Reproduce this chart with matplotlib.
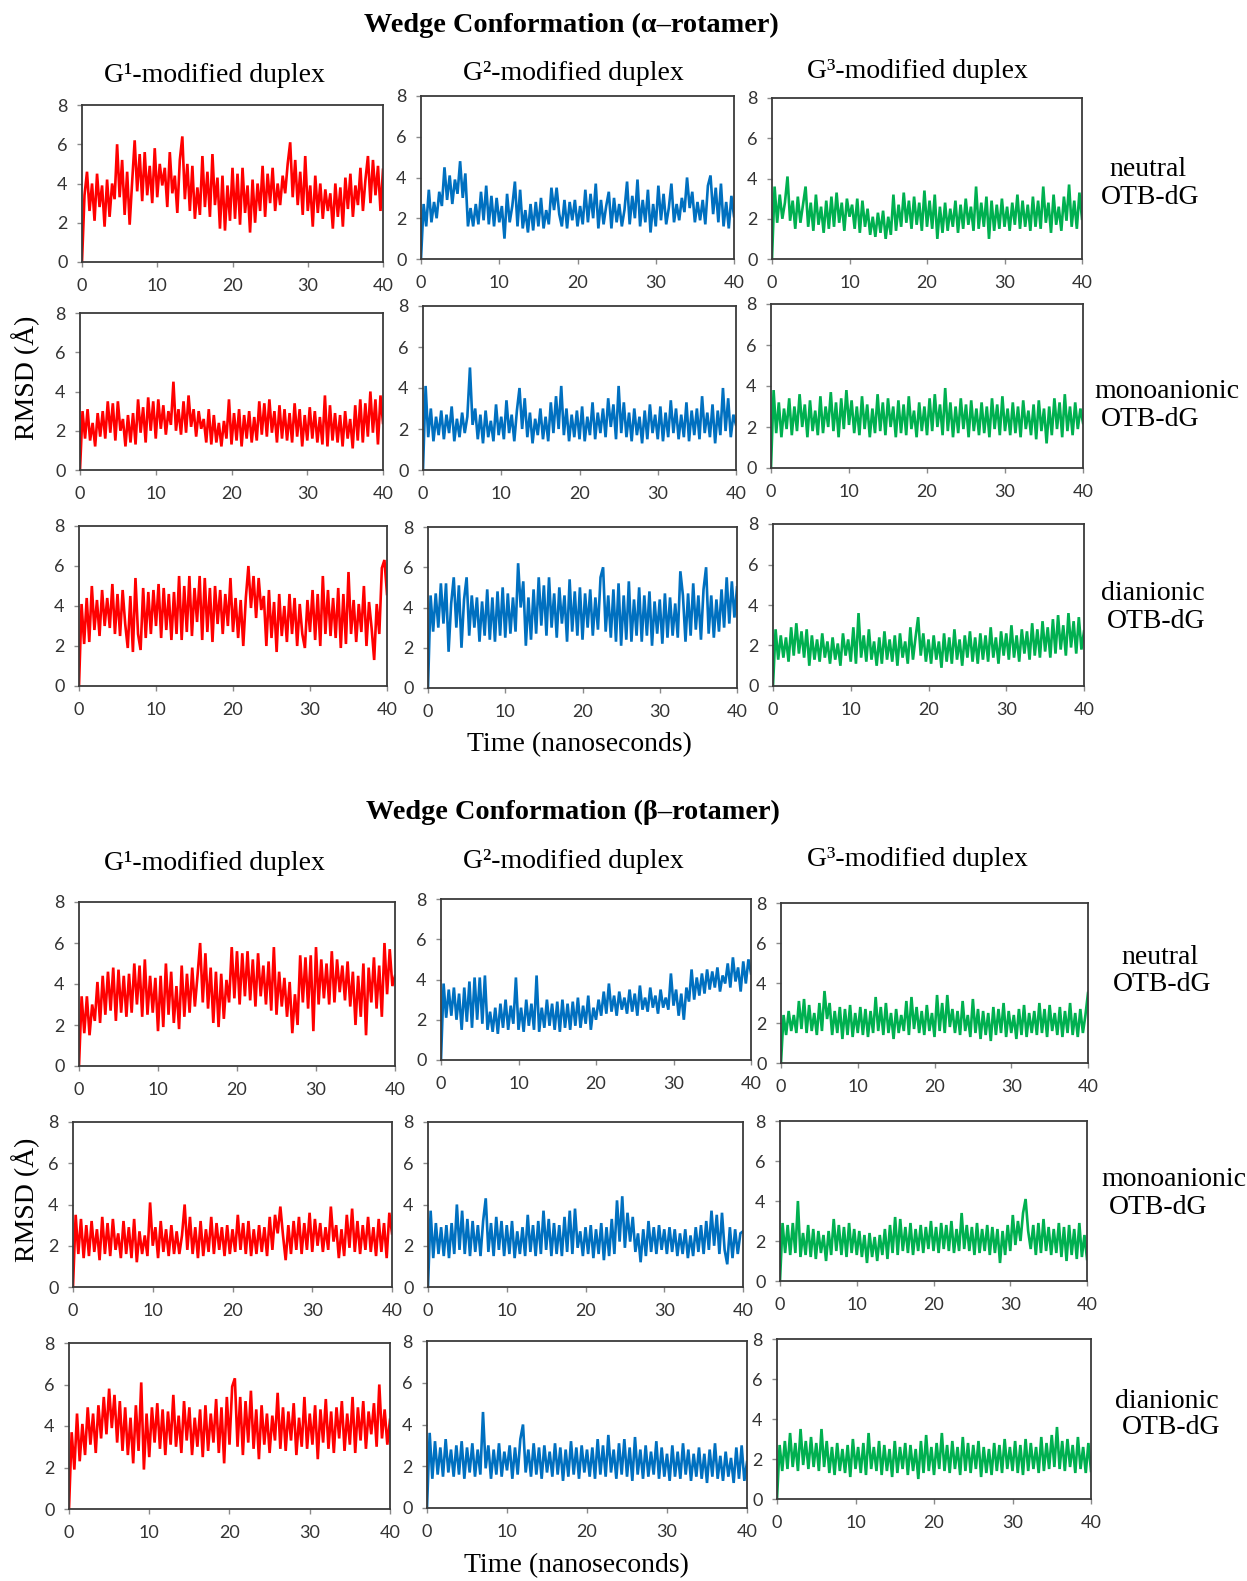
import numpy as np
import matplotlib
matplotlib.use("Agg")
import matplotlib.pyplot as plt

W, H = 1247, 1581

# RMSD traces (Angstrom), 0 to 40 ns
# alpha rotamer
a_g1_neu = [0, 3.4, 4.6, 2.6, 4.0, 2.1, 4.5, 2.8, 3.9, 1.8, 4.2, 2.3, 4.0, 3.2, 6.0, 3.3, 5.2, 2.4, 4.6, 1.9, 4.1,
            6.2, 3.6, 5.5, 3.1, 5.6, 3.4, 4.9, 3.0, 5.8, 3.3, 5.0, 3.9, 4.8, 2.8, 5.6, 3.5, 4.4, 2.5, 5.2, 6.4,
            3.2, 5.0, 2.6, 4.9, 2.2, 3.8, 2.4, 5.4, 2.8, 4.6, 2.3, 5.5, 2.9, 4.3, 1.7, 4.4, 1.6, 3.9, 2.1, 4.8,
            2.2, 4.5, 1.9, 4.8, 2.5, 3.9, 1.5, 4.2, 2.0, 4.0, 2.6, 4.9, 2.3, 4.5, 3.0, 4.8, 2.6, 4.0, 2.9, 4.4,
            3.5, 5.0, 6.1, 3.3, 5.2, 2.9, 4.6, 2.4, 5.4, 2.6, 3.9, 1.8, 4.4, 2.5, 4.0, 2.2, 3.7, 2.6, 3.5, 1.7,
            4.0, 2.3, 3.8, 1.8, 4.3, 2.7, 4.5, 2.3, 3.9, 2.9, 4.8, 2.6, 4.2, 5.4, 3.0, 5.2, 3.4, 4.9, 2.6, 4.7]
a_g2_neu = [0, 2.7, 1.6, 3.4, 1.8, 2.8, 2.0, 3.3, 2.6, 4.5, 2.9, 4.1, 2.7, 3.9, 3.2, 4.8, 3.0, 4.2, 1.6, 2.5, 1.6,
            2.7, 1.7, 3.3, 1.9, 3.6, 1.7, 3.1, 1.6, 3.0, 1.8, 2.6, 1.0, 3.2, 1.8, 2.6, 3.8, 1.6, 3.4, 1.5, 2.4,
            1.3, 2.7, 1.4, 2.8, 1.6, 3.0, 1.5, 2.4, 1.7, 3.5, 2.4, 3.5, 2.2, 1.6, 2.9, 1.5, 2.8, 1.9, 2.9, 1.6,
            2.6, 1.7, 3.4, 1.8, 3.2, 2.0, 3.7, 1.5, 2.9, 1.7, 2.6, 3.3, 1.5, 3.0, 1.8, 2.7, 1.6, 2.4, 3.8, 1.7,
            3.1, 2.0, 3.9, 1.6, 2.9, 1.8, 3.4, 1.3, 2.7, 1.6, 3.6, 1.9, 3.2, 1.7, 2.5, 3.7, 1.8, 2.7, 1.9, 3.0,
            2.3, 4.0, 2.5, 3.3, 1.8, 2.8, 1.9, 2.9, 1.7, 3.6, 4.1, 2.2, 3.5, 1.8, 3.7, 1.6, 2.8, 1.5, 3.1, 2.1]
a_g3_neu = [0, 3.6, 1.8, 3.2, 2.0, 2.8, 4.1, 1.9, 2.9, 1.5, 3.1, 1.8, 2.7, 3.6, 1.6, 2.8, 1.4, 3.2, 1.7, 2.6, 1.3,
            2.9, 1.5, 3.1, 1.6, 3.3, 1.8, 2.8, 1.4, 3.0, 2.1, 2.7, 1.5, 3.0, 1.3, 2.9, 1.6, 2.5, 1.2, 2.1, 1.1,
            2.3, 1.3, 2.4, 1.0, 2.1, 1.2, 3.2, 1.4, 2.7, 1.6, 3.3, 1.8, 2.9, 1.5, 3.1, 1.7, 2.8, 1.4, 3.4, 1.6,
            2.9, 1.5, 3.2, 1.0, 2.6, 1.3, 2.8, 1.4, 2.5, 1.6, 2.9, 1.3, 2.7, 1.5, 3.0, 1.7, 2.6, 1.4, 3.6, 1.5,
            2.8, 1.6, 3.1, 1.0, 2.9, 1.4, 2.7, 1.5, 3.0, 1.6, 2.6, 1.4, 2.8, 1.7, 3.2, 1.5, 2.9, 1.6, 2.7, 1.4,
            3.1, 1.6, 2.9, 1.5, 3.6, 1.8, 2.8, 1.3, 3.2, 1.7, 2.6, 1.4, 3.1, 1.9, 3.7, 1.6, 2.9, 1.5, 3.3, 2.0]
a_g1_mono = [0, 3.0, 1.6, 3.1, 1.5, 2.4, 1.2, 2.9, 1.7, 3.0, 1.6, 3.5, 1.9, 3.4, 1.5, 3.5, 2.0, 2.6, 1.2, 2.8, 1.4,
             2.9, 1.3, 3.6, 1.9, 3.2, 1.4, 3.7, 2.0, 3.5, 1.6, 3.6, 2.1, 3.3, 1.8, 3.0, 2.3, 4.5, 2.0, 3.1, 1.8,
             3.5, 1.9, 3.8, 2.2, 3.1, 1.7, 3.0, 2.1, 2.6, 1.4, 3.1, 1.3, 2.8, 1.4, 2.4, 1.2, 2.5, 1.6, 3.6, 1.3,
             2.9, 1.5, 3.1, 1.2, 2.8, 1.6, 3.0, 1.4, 2.7, 1.5, 3.5, 1.8, 3.4, 1.7, 3.6, 1.9, 3.0, 1.4, 3.3, 1.6,
             3.1, 1.5, 2.9, 1.4, 3.4, 1.7, 3.1, 1.2, 2.8, 1.5, 3.2, 1.6, 3.0, 1.4, 2.7, 1.3, 3.8, 1.2, 3.3, 1.5,
             2.9, 1.4, 2.8, 1.2, 3.0, 1.6, 2.6, 1.1, 3.3, 1.5, 3.6, 1.4, 3.4, 1.7, 4.0, 1.9, 3.6, 1.3, 3.8, 2.4]
a_g2_mono = [0, 4.1, 1.6, 3.0, 1.4, 2.6, 1.7, 2.9, 1.5, 2.7, 1.8, 3.1, 1.4, 2.5, 1.6, 2.8, 1.8, 2.6, 5.0, 2.2, 3.0,
             1.5, 2.7, 1.3, 2.9, 1.6, 2.4, 1.4, 3.2, 1.7, 2.6, 1.5, 3.4, 1.8, 2.7, 1.4, 2.9, 4.0, 2.0, 3.5, 1.6,
             2.8, 1.3, 2.5, 1.7, 3.0, 1.5, 2.6, 1.4, 3.3, 1.8, 3.6, 2.0, 4.1, 1.7, 3.0, 1.4, 2.7, 1.6, 2.9, 1.5,
             3.1, 1.4, 2.6, 1.7, 3.3, 1.5, 2.8, 1.8, 3.0, 1.6, 3.5, 2.1, 3.2, 1.5, 4.1, 1.8, 3.3, 1.6, 2.8, 1.4,
             3.0, 1.7, 2.6, 1.3, 2.9, 1.5, 3.2, 1.8, 2.7, 1.5, 3.1, 1.4, 2.8, 1.6, 3.4, 1.8, 3.0, 1.5, 2.7, 1.6,
             3.3, 1.4, 2.9, 1.7, 3.0, 1.5, 3.6, 1.8, 2.8, 1.6, 3.2, 1.3, 2.9, 1.7, 4.0, 1.9, 3.5, 1.6, 2.7, 2.2]
a_g3_mono = [0, 3.8, 1.7, 3.2, 1.5, 2.9, 1.9, 3.4, 1.6, 3.0, 1.8, 3.6, 2.0, 3.1, 1.5, 3.3, 1.8, 2.8, 1.6, 3.5, 1.7,
             3.0, 2.0, 3.7, 1.8, 3.2, 1.5, 3.4, 1.9, 3.8, 2.1, 3.3, 1.7, 3.0, 1.6, 3.5, 1.9, 3.1, 1.5, 2.9, 1.7,
             3.6, 1.8, 3.2, 1.6, 3.4, 2.0, 3.0, 1.5, 3.3, 1.7, 3.1, 1.6, 3.5, 1.9, 2.8, 1.5, 3.2, 1.8, 3.0, 1.6,
             3.4, 1.8, 3.6, 2.0, 3.1, 1.6, 3.9, 1.8, 3.2, 1.5, 3.0, 1.7, 3.4, 1.9, 3.1, 1.5, 3.3, 1.8, 2.9, 1.6,
             3.2, 1.7, 3.0, 1.5, 3.4, 1.9, 3.1, 1.6, 3.5, 1.8, 2.9, 1.6, 3.2, 1.7, 3.0, 1.5, 3.3, 1.9, 2.8, 1.6,
             3.1, 1.4, 3.3, 1.8, 2.9, 1.2, 3.0, 1.6, 3.4, 1.9, 3.2, 1.5, 3.6, 1.8, 3.0, 1.6, 3.2, 1.9, 2.9, 2.2]
a_g1_di = [0, 4.1, 2.1, 4.4, 2.2, 5.0, 2.8, 4.3, 2.5, 4.8, 3.0, 4.4, 2.9, 5.1, 2.6, 4.6, 2.5, 4.8, 3.1, 1.9, 4.5,
           1.7, 5.4, 2.6, 1.8, 4.9, 2.4, 4.7, 2.6, 4.8, 3.0, 5.1, 2.4, 4.9, 2.8, 4.6, 2.3, 4.7, 2.6, 5.5, 2.3,
           5.0, 2.7, 5.5, 2.5, 4.9, 3.2, 5.5, 2.3, 5.4, 2.7, 4.9, 2.2, 5.0, 3.1, 4.8, 2.6, 4.6, 3.0, 5.4, 2.7,
           4.4, 2.4, 4.3, 2.0, 4.4, 6.0, 3.9, 5.5, 3.4, 5.4, 3.8, 4.5, 2.0, 4.8, 2.4, 4.2, 1.7, 4.6, 2.5, 4.0,
           2.2, 4.6, 2.6, 4.4, 2.0, 4.1, 2.6, 1.9, 4.3, 2.7, 4.8, 2.3, 4.6, 2.0, 5.5, 2.6, 4.8, 2.5, 4.4, 2.4,
           4.9, 1.9, 4.6, 2.1, 5.7, 2.6, 4.3, 2.2, 4.1, 2.7, 5.0, 2.0, 4.2, 2.9, 1.3, 4.1, 2.6, 5.9, 6.3, 4.6]
a_g2_di = [0, 4.6, 2.8, 4.7, 3.0, 5.2, 3.2, 5.2, 1.8, 4.2, 5.5, 3.0, 5.1, 2.0, 4.4, 5.5, 2.6, 4.6, 3.0, 4.5, 2.3,
           4.3, 2.6, 4.9, 2.4, 4.5, 2.3, 4.8, 2.6, 5.0, 2.5, 4.7, 2.7, 4.5, 2.8, 6.2, 4.0, 5.3, 2.1, 4.5, 2.4,
           4.9, 2.7, 5.5, 3.1, 5.1, 2.6, 5.5, 3.0, 4.7, 2.5, 5.0, 3.2, 4.6, 2.3, 5.4, 2.8, 4.8, 2.6, 5.0, 2.4,
           4.7, 3.0, 4.9, 2.6, 4.5, 2.9, 5.5, 6.0, 2.8, 4.6, 2.5, 4.9, 2.3, 5.2, 2.1, 4.6, 2.4, 5.3, 2.3, 4.4,
           2.6, 5.0, 2.3, 4.6, 2.6, 4.8, 2.1, 4.3, 2.7, 4.4, 2.2, 4.7, 2.5, 4.5, 2.6, 4.2, 2.5, 5.8, 4.6, 2.3,
           4.7, 2.6, 5.2, 2.9, 4.6, 2.4, 4.9, 6.0, 2.7, 4.6, 2.5, 4.4, 2.8, 4.9, 3.0, 5.5, 3.2, 5.3, 3.5, 5.0]
a_g3_di = [0, 2.8, 1.3, 2.5, 1.4, 2.4, 1.2, 2.9, 1.5, 3.1, 1.6, 2.7, 1.4, 2.8, 1.0, 2.5, 1.3, 2.3, 1.2, 2.6, 1.4,
           2.2, 1.1, 2.4, 1.3, 2.1, 1.0, 2.6, 1.5, 2.3, 1.2, 2.9, 1.1, 3.6, 1.4, 2.5, 1.2, 2.8, 1.3, 2.2, 1.0,
           2.4, 1.1, 2.7, 1.3, 2.3, 1.2, 2.5, 1.0, 2.6, 1.4, 2.2, 1.1, 2.9, 1.3, 2.4, 3.4, 1.5, 2.6, 1.2, 2.3,
           1.1, 2.5, 1.3, 2.2, 0.9, 2.6, 1.2, 2.4, 1.1, 2.8, 1.3, 2.3, 1.0, 2.5, 1.4, 2.7, 1.2, 2.4, 1.1, 2.6,
           1.3, 2.5, 1.2, 2.9, 1.4, 2.4, 1.1, 2.7, 1.5, 2.6, 1.3, 3.0, 1.4, 2.5, 1.2, 2.8, 1.6, 2.7, 1.3, 3.1,
           1.5, 2.8, 1.4, 3.2, 1.7, 2.9, 1.4, 3.3, 1.6, 3.5, 1.8, 3.0, 1.5, 3.6, 1.9, 3.2, 1.6, 3.4, 1.8, 2.7]
# beta rotamer
b_g1_neu = [0, 3.4, 1.6, 3.4, 1.5, 3.0, 2.2, 4.1, 2.1, 4.4, 2.5, 4.6, 2.7, 4.8, 2.2, 4.7, 2.6, 4.4, 2.4, 4.5, 2.6,
            5.0, 3.0, 4.9, 2.4, 5.2, 2.5, 4.4, 2.6, 4.3, 1.7, 4.4, 1.9, 5.0, 2.5, 4.6, 2.1, 3.9, 1.8, 4.9, 2.4,
            4.5, 2.6, 4.8, 2.9, 4.4, 6.0, 3.1, 5.5, 2.8, 4.8, 2.1, 4.6, 1.9, 4.5, 2.3, 4.2, 3.1, 5.8, 3.3, 5.6,
            3.0, 5.5, 3.4, 5.6, 3.2, 5.2, 2.9, 5.5, 3.4, 4.9, 3.0, 5.1, 2.7, 5.8, 2.5, 4.6, 2.9, 4.3, 2.4, 4.1,
            1.6, 3.5, 2.0, 5.4, 3.1, 5.3, 2.8, 5.4, 1.7, 5.8, 3.0, 5.2, 3.3, 5.0, 3.0, 5.6, 3.1, 5.2, 3.6, 4.9,
            3.2, 5.1, 2.9, 4.6, 2.0, 4.4, 2.4, 5.0, 1.5, 4.8, 3.1, 5.3, 2.8, 4.9, 2.4, 6.0, 3.5, 5.7, 3.9, 4.4]
b_g2_neu = [0, 3.8, 2.1, 3.5, 2.2, 3.6, 2.0, 3.3, 1.5, 3.6, 1.9, 3.9, 1.6, 4.1, 2.0, 4.1, 1.8, 4.2, 1.5, 2.4, 1.4,
            2.6, 1.3, 2.8, 1.6, 3.0, 1.5, 2.7, 1.8, 4.1, 1.5, 2.6, 1.4, 3.0, 1.7, 2.8, 1.5, 4.2, 1.4, 2.6, 1.6,
            3.0, 1.7, 2.8, 1.5, 2.9, 1.4, 3.0, 1.6, 2.8, 1.5, 2.9, 1.7, 3.1, 1.6, 2.7, 1.8, 3.2, 1.5, 2.6, 2.0,
            3.0, 2.2, 3.4, 2.3, 3.8, 2.4, 3.2, 2.2, 3.4, 2.5, 3.1, 2.3, 3.5, 2.4, 3.3, 2.2, 3.7, 2.5, 3.1, 2.4,
            3.6, 2.6, 3.2, 2.3, 3.5, 2.6, 3.1, 2.5, 4.3, 2.7, 3.5, 2.2, 3.3, 2.0, 3.6, 2.9, 4.5, 3.0, 4.1, 3.2,
            4.3, 3.3, 4.5, 3.5, 4.4, 3.6, 4.6, 3.4, 4.2, 3.8, 4.8, 3.6, 5.1, 3.9, 4.6, 3.4, 4.9, 3.8, 5.0, 4.3]
b_g3_neu = [0, 2.4, 1.4, 2.6, 1.6, 2.4, 1.5, 3.1, 1.7, 3.2, 1.5, 2.9, 1.6, 2.5, 1.4, 3.0, 1.6, 3.6, 2.2, 3.0, 1.4,
            2.6, 1.5, 2.8, 1.2, 2.7, 1.4, 2.9, 1.3, 2.5, 1.5, 2.8, 1.4, 2.7, 1.3, 2.6, 1.5, 3.3, 1.6, 2.8, 1.4,
            3.0, 1.5, 2.5, 1.2, 2.7, 1.5, 2.4, 1.6, 3.1, 1.4, 3.3, 1.7, 2.8, 1.5, 2.6, 1.4, 2.9, 1.6, 2.5, 1.3,
            3.4, 1.6, 3.0, 1.5, 3.4, 1.8, 2.7, 1.5, 2.6, 1.4, 3.1, 1.6, 2.4, 1.3, 3.2, 1.5, 2.7, 1.2, 2.6, 1.4,
            2.5, 1.1, 2.8, 1.4, 2.7, 1.5, 3.0, 1.3, 2.6, 1.5, 2.4, 1.2, 2.7, 1.4, 2.9, 1.3, 2.5, 1.5, 2.6, 1.4,
            3.0, 1.5, 2.7, 1.3, 2.9, 1.6, 2.5, 1.4, 2.8, 1.3, 2.6, 1.5, 3.0, 1.4, 2.5, 1.3, 2.7, 1.5, 2.4, 3.5]
b_g1_mono = [0, 3.5, 1.6, 3.3, 1.4, 3.0, 1.5, 3.2, 1.7, 2.8, 1.3, 3.4, 1.6, 3.1, 1.5, 3.3, 1.8, 2.6, 1.4, 3.2, 1.6,
             2.9, 1.4, 3.3, 1.2, 2.7, 1.6, 2.5, 1.5, 4.1, 2.0, 2.9, 1.4, 3.2, 1.7, 2.8, 1.5, 3.0, 1.6, 2.7, 1.6,
             2.5, 4.0, 1.8, 3.4, 1.6, 2.9, 1.4, 3.2, 1.5, 2.8, 1.7, 3.4, 1.6, 3.1, 1.8, 2.9, 1.5, 3.0, 1.6, 2.8,
             1.7, 3.5, 1.8, 3.1, 1.6, 3.2, 1.5, 2.8, 1.6, 3.0, 1.7, 2.9, 1.5, 3.4, 1.8, 3.5, 2.6, 3.9, 2.5, 1.3,
             3.0, 1.6, 3.2, 1.8, 3.4, 1.6, 3.1, 1.8, 3.6, 1.7, 3.3, 2.0, 3.1, 1.7, 2.9, 1.8, 3.9, 2.2, 3.0, 1.4,
             2.8, 1.5, 3.5, 1.9, 3.8, 1.7, 3.2, 1.6, 3.0, 1.8, 3.4, 1.7, 2.9, 1.5, 3.3, 1.7, 3.1, 1.4, 3.6, 2.6]
b_g2_mono = [0, 3.7, 1.4, 3.1, 1.6, 2.9, 1.5, 3.0, 1.4, 3.1, 1.6, 4.0, 1.8, 3.7, 1.6, 3.3, 1.5, 3.2, 1.7, 3.0, 1.5,
             3.2, 4.3, 1.7, 3.1, 1.5, 3.4, 1.8, 3.2, 1.5, 3.0, 1.6, 3.2, 1.4, 2.7, 1.6, 2.9, 1.5, 3.5, 1.7, 3.0,
             1.5, 3.2, 1.6, 3.7, 1.8, 3.3, 1.5, 3.1, 1.6, 3.0, 1.5, 3.4, 1.7, 3.7, 1.6, 3.8, 1.9, 2.7, 1.5, 2.9,
             1.6, 3.0, 1.4, 2.8, 1.6, 3.1, 1.3, 2.9, 1.5, 3.3, 1.6, 4.2, 2.2, 4.4, 1.9, 3.6, 2.2, 3.4, 1.7, 2.6,
             1.2, 2.8, 1.5, 3.2, 1.7, 2.9, 1.6, 3.0, 1.8, 2.8, 1.6, 2.9, 1.7, 2.8, 1.5, 2.6, 1.6, 2.8, 1.4, 2.5,
             1.5, 2.9, 1.7, 3.0, 1.6, 3.2, 1.8, 3.7, 2.0, 3.5, 1.6, 3.6, 1.8, 1.1, 2.9, 1.4, 2.8, 1.6, 2.6, 2.7]
b_g3_mono = [0, 2.9, 1.4, 2.8, 1.3, 2.9, 1.4, 4.0, 1.2, 2.4, 1.3, 2.8, 1.2, 2.6, 1.1, 2.5, 1.4, 2.3, 1.0, 2.5, 1.3,
             3.1, 1.5, 2.8, 1.3, 2.7, 1.2, 2.9, 1.4, 2.6, 1.3, 2.5, 1.2, 2.3, 0.9, 2.4, 1.2, 2.2, 1.0, 2.3, 1.3,
             2.6, 1.1, 2.8, 1.4, 3.2, 1.3, 3.1, 1.5, 2.7, 1.4, 2.9, 1.3, 2.6, 1.5, 2.8, 1.4, 2.7, 1.6, 3.0, 1.5,
             2.7, 1.4, 2.9, 1.6, 2.8, 1.5, 3.0, 1.4, 2.6, 1.5, 3.4, 1.6, 2.8, 1.5, 2.7, 1.3, 2.9, 1.4, 2.6, 1.5,
             2.8, 1.3, 2.7, 1.4, 2.6, 0.9, 2.5, 1.3, 2.8, 1.5, 3.3, 1.8, 3.0, 2.0, 3.4, 4.1, 2.5, 1.6, 2.8, 1.3,
             2.9, 1.4, 3.1, 1.5, 2.7, 1.3, 2.6, 1.4, 2.9, 1.2, 2.7, 1.0, 2.8, 1.3, 2.6, 1.1, 2.9, 1.2, 2.3, 1.1]
b_g1_di = [0, 3.7, 1.9, 4.6, 2.3, 4.1, 2.6, 4.9, 3.1, 4.6, 2.7, 5.0, 3.4, 5.4, 3.6, 5.8, 3.9, 5.5, 3.2, 5.2, 2.8,
           4.9, 2.6, 4.4, 2.2, 5.0, 2.8, 6.1, 1.9, 4.6, 2.5, 4.9, 3.2, 5.1, 2.9, 4.8, 2.6, 4.7, 3.1, 5.5, 3.0,
           4.5, 2.7, 5.2, 3.3, 4.9, 2.6, 4.4, 3.0, 4.8, 2.5, 5.0, 2.8, 4.6, 3.2, 5.3, 2.7, 4.9, 2.2, 5.4, 3.1,
           5.9, 6.3, 3.0, 5.4, 2.6, 5.2, 3.2, 5.7, 2.9, 4.8, 2.4, 5.0, 3.1, 4.6, 2.7, 4.5, 3.3, 5.6, 2.9, 4.9,
           2.8, 4.7, 3.3, 5.1, 2.6, 4.4, 3.0, 5.4, 2.9, 4.6, 3.1, 5.0, 2.4, 4.8, 3.2, 5.3, 2.9, 4.7, 2.7, 4.9,
           3.4, 5.2, 2.8, 4.6, 3.1, 5.4, 2.7, 4.9, 3.3, 5.2, 2.9, 4.7, 3.6, 5.1, 3.0, 6.0, 3.4, 4.8, 3.1, 4.3]
b_g2_di = [0, 3.6, 1.4, 3.2, 1.6, 2.9, 1.5, 3.3, 1.7, 2.8, 1.5, 3.0, 1.6, 3.2, 1.4, 2.9, 1.7, 3.1, 1.5, 2.8, 1.6,
           4.6, 1.9, 3.0, 1.4, 2.8, 1.6, 3.1, 1.5, 2.7, 1.8, 3.0, 1.4, 2.9, 1.6, 3.3, 4.0, 1.7, 2.8, 1.5, 3.1,
           1.6, 2.9, 1.4, 3.0, 1.7, 2.7, 1.5, 3.1, 1.6, 2.9, 1.3, 2.8, 1.5, 3.2, 1.6, 2.9, 1.4, 3.0, 1.7, 2.8,
           1.5, 2.9, 1.4, 3.3, 1.6, 3.0, 1.5, 3.5, 1.7, 2.8, 1.4, 3.1, 1.6, 3.3, 1.5, 2.9, 1.3, 3.4, 1.6, 2.8,
           1.4, 3.0, 1.5, 2.7, 1.6, 3.2, 1.4, 2.9, 1.5, 2.6, 1.3, 3.0, 1.5, 2.7, 1.4, 3.1, 1.6, 2.8, 1.3, 2.6,
           1.5, 2.9, 1.4, 2.6, 1.2, 2.8, 1.5, 3.1, 1.4, 2.5, 1.3, 2.7, 1.5, 2.4, 1.2, 2.9, 1.4, 3.0, 1.3, 2.2]
b_g3_di = [0, 2.7, 1.4, 2.9, 1.5, 3.3, 1.6, 2.8, 1.4, 3.5, 1.7, 2.9, 1.5, 3.1, 1.6, 2.8, 1.4, 3.5, 1.6, 2.9, 1.3,
           2.6, 1.2, 2.8, 1.4, 2.5, 1.3, 2.7, 1.1, 3.0, 1.5, 2.6, 1.3, 2.8, 1.2, 3.3, 1.5, 2.6, 1.4, 2.9, 1.2,
           2.7, 1.4, 2.5, 1.1, 2.9, 1.3, 2.6, 1.5, 2.8, 1.2, 2.7, 1.4, 2.5, 1.0, 2.9, 1.3, 3.2, 1.4, 2.6, 1.2,
           2.8, 1.5, 3.3, 1.4, 2.7, 1.3, 2.9, 1.5, 2.6, 1.2, 3.1, 1.4, 2.8, 1.3, 2.7, 1.5, 2.9, 1.1, 2.6, 1.3,
           2.5, 1.2, 2.8, 1.4, 2.7, 1.3, 3.0, 1.5, 2.6, 1.4, 2.9, 1.3, 2.7, 1.2, 3.0, 1.4, 2.8, 1.5, 2.6, 1.3,
           3.1, 1.4, 2.8, 1.5, 3.2, 1.6, 3.6, 1.5, 2.9, 1.4, 3.0, 1.6, 2.7, 1.3, 3.1, 1.5, 2.6, 1.3, 2.8, 1.4]

colors = ["#ff0000", "#0070c0", "#00b050"]   # G1, G2, G3

# plot boxes in pixels: left, right, top, bottom
panels = [
    (a_g1_neu, 0, (82, 383, 105, 262)), (a_g2_neu, 1, (421, 734, 96, 259)), (a_g3_neu, 2, (772, 1082, 98, 259)),
    (a_g1_mono, 0, (80, 383, 313, 470)), (a_g2_mono, 1, (423, 736, 306, 470)), (a_g3_mono, 2, (771, 1083, 304, 468)),
    (a_g1_di, 0, (79, 387, 526, 686)), (a_g2_di, 1, (428, 737, 527, 688)), (a_g3_di, 2, (773, 1084, 524, 686)),
    (b_g1_neu, 0, (79, 395, 902, 1066)), (b_g2_neu, 1, (441, 751, 899, 1060)), (b_g3_neu, 2, (781, 1088, 903, 1063)),
    (b_g1_mono, 0, (73, 392, 1122, 1287)), (b_g2_mono, 1, (428, 743, 1122, 1287)), (b_g3_mono, 2, (780, 1087, 1121, 1281)),
    (b_g1_di, 0, (69, 390, 1343, 1509)), (b_g2_di, 1, (427, 747, 1341, 1508)), (b_g3_di, 2, (777, 1091, 1339, 1499)),
]

fig = plt.figure(figsize=(W / 100, H / 100), dpi=100)
serif = "Liberation Serif"

for vals, c, (l, r, t, b) in panels:
    ax = fig.add_axes([l / W, 1 - b / H, (r - l) / W, (b - t) / H])
    time = np.linspace(0, 40, len(vals))
    ax.plot(time, vals, color=colors[c], lw=1.9, solid_joinstyle="miter")
    ax.set_xlim(0, 40)
    ax.set_ylim(0, 8)
    ax.set_xticks([0, 10, 20, 30, 40])
    ax.set_yticks([0, 2, 4, 6, 8])
    for s in ax.spines.values():
        s.set_color("#3a3a3a")
        s.set_linewidth(1.3)
    ax.tick_params(direction="out", length=3.5, width=1, color="#8a8a8a",
                   labelsize=13, labelcolor="#333333")
    ax.tick_params(axis="x", pad=8)
    ax.tick_params(axis="y", pad=7)
    for lab in ax.get_xticklabels() + ax.get_yticklabels():
        lab.set_family("Lato")

def txt(x, y, s, **kw):
    fig.text(x / W, 1 - y / H, s, ha="center", va="center", family=serif, **kw)

txt(571, 25, "Wedge Conformation (\u03b1\u2013rotamer)", fontsize=20.3, fontweight="bold")
txt(573, 812, "Wedge Conformation (\u03b2\u2013rotamer)", fontsize=20.3, fontweight="bold")

headers = ["G\u00b9-modified duplex", "G\u00b2-modified duplex", "G\u00b3-modified duplex"]
for h, x, y1, y2 in zip(headers, [214, 573, 917], [75, 73, 72], [864, 861, 860]):
    txt(x, y1, h, fontsize=20)
    txt(x, y2, h, fontsize=20)

row_lines = [("neutral", 1148, 169), ("OTB-dG", 1150, 198),
             ("monoanionic", 1167, 392), ("OTB-dG", 1150, 419),
             ("dianionic", 1153, 594), ("OTB-dG", 1156, 621),
             ("neutral", 1160, 957), ("OTB-dG", 1162, 984),
             ("monoanionic", 1174, 1180), ("OTB-dG", 1158, 1208),
             ("dianionic", 1167, 1401), ("OTB-dG", 1171, 1427)]
for s, x, y in row_lines:
    txt(x, y, s, fontsize=20)

txt(26, 378, "RMSD (\u00c5)", fontsize=20, rotation=90)
txt(26, 1200, "RMSD (\u00c5)", fontsize=20, rotation=90)
txt(579, 745, "Time (nanoseconds)", fontsize=20)
txt(576, 1566, "Time (nanoseconds)", fontsize=20)

fig.savefig("out.png", dpi=100)
